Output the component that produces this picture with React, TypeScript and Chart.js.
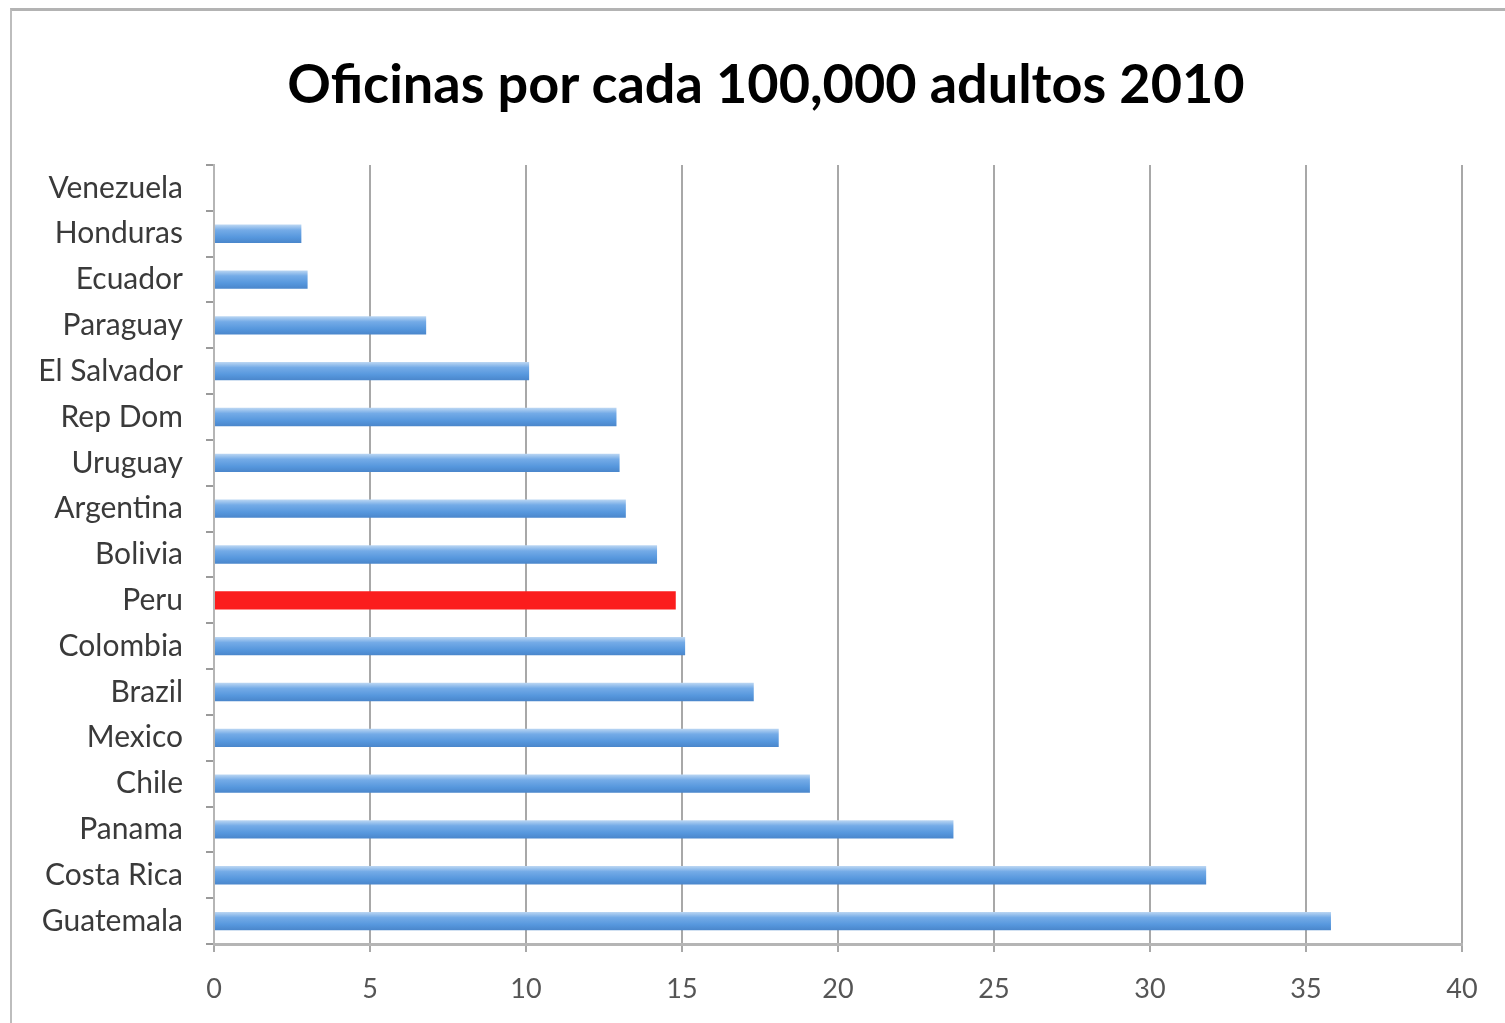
import React, { useEffect, useRef } from "react";
import { Chart, registerables } from "chart.js";

Chart.register(...registerables);

// Bank offices per 100,000 adults, 2010
const countries = [
  "Venezuela",
  "Honduras",
  "Ecuador",
  "Paraguay",
  "El Salvador",
  "Rep Dom",
  "Uruguay",
  "Argentina",
  "Bolivia",
  "Peru",
  "Colombia",
  "Brazil",
  "Mexico",
  "Chile",
  "Panama",
  "Costa Rica",
  "Guatemala",
];

const offices = [
  0, 2.8, 3.0, 6.8, 10.1, 12.9, 13.0, 13.2, 14.2, 14.8, 15.1, 17.3, 18.1, 19.1, 23.7, 31.8, 35.8,
];

const highlighted = ["Peru"];

const xTicks = [0, 5, 10, 15, 20, 25, 30, 35, 40];

const titleText = "Oficinas por cada 100,000 adultos 2010";

// Paints each blue bar with a vertical gradient for a glossy look
const barGradientPlugin = {
  id: "barGradient",
  beforeDatasetsDraw(chart: any) {
    const ctx = chart.ctx;
    const meta = chart.getDatasetMeta(0);
    meta.data.forEach((bar: any, i: number) => {
      if (highlighted.includes(countries[i])) return;
      const h = bar.height;
      const top = bar.y - h / 2;
      const g = ctx.createLinearGradient(0, top, 0, top + h);
      g.addColorStop(0, "#bcd7f3");
      g.addColorStop(0.3, "#74abe7");
      g.addColorStop(0.7, "#5697dd");
      g.addColorStop(1, "#4a86cb");
      bar.options.backgroundColor = g;
    });
  },
};

function OfficesChart() {
  const canvasRef = useRef<HTMLCanvasElement | null>(null);

  useEffect(() => {
    const canvas = canvasRef.current;
    if (!canvas) return;
    const chart = new Chart(canvas, {
      type: "bar",
      data: {
        labels: countries,
        datasets: [
          {
            data: offices,
            backgroundColor: countries.map((c) => (highlighted.includes(c) ? "#fb1d1d" : "#5b9be0")),
            borderWidth: 0,
            categoryPercentage: 1,
            barPercentage: 0.4,
          },
        ],
      },
      options: {
        indexAxis: "y",
        animation: false,
        responsive: false,
        maintainAspectRatio: false,
        layout: { padding: { left: 0, right: 43, top: 165, bottom: 0 } },
        plugins: {
          legend: { display: false },
          tooltip: { enabled: false },
          title: { display: false },
        },
        scales: {
          x: {
            type: "linear",
            min: 0,
            max: 40,
            afterBuildTicks(axis: any) {
              axis.ticks = xTicks.map((v) => ({ value: v }));
            },
            afterFit(axis: any) {
              axis.height = 79;
            },
            grid: {
              display: true,
              drawOnChartArea: true,
              drawTicks: true,
              tickLength: 8,
              color: "#a8a8a8",
              lineWidth: 2,
            },
            border: { display: true, color: "#b5b5b5", width: 3 },
            ticks: {
              color: "#555555",
              font: { family: "Lato", size: 27 },
              padding: 21,
              maxRotation: 0,
            },
          },
          y: {
            type: "category",
            afterFit(axis: any) {
              axis.width = 214;
            },
            grid: {
              display: true,
              drawOnChartArea: false,
              drawTicks: true,
              tickLength: 8,
              offset: true,
              color: "#9a9a9a",
              lineWidth: 2,
            },
            border: { display: true, color: "#b5b5b5", width: 2 },
            ticks: {
              color: "#3a3a3a",
              font: { family: "Lato", size: 30 },
              padding: 23,
              autoSkip: false,
            },
          },
        },
      },
      plugins: [barGradientPlugin],
    });
    return () => chart.destroy();
  }, []);

  return (
    <div style={{ position: "fixed", left: 0, top: 0, width: 1505, height: 1023, background: "#ffffff" }}>
      <div
        style={{
          position: "absolute",
          left: 10,
          top: 8,
          width: 1510,
          height: 1030,
          borderTop: "3px solid #b3b3b3",
          borderLeft: "2px solid #bdbdbd",
          boxSizing: "border-box",
        }}
      />
      <canvas
        ref={canvasRef}
        width={1505}
        height={1023}
        style={{ position: "absolute", left: 0, top: 0, width: 1505, height: 1023 }}
      />
      <div
        style={{
          position: "absolute",
          left: 266,
          top: 50,
          width: 1000,
          height: 66,
          lineHeight: "66px",
          textAlign: "center",
          fontFamily: "Lato",
          fontWeight: 700,
          fontSize: 54,
          color: "#000000",
          whiteSpace: "nowrap",
        }}
      >
        {titleText}
      </div>
    </div>
  );
}

export default function App() {
  return <OfficesChart />;
}
